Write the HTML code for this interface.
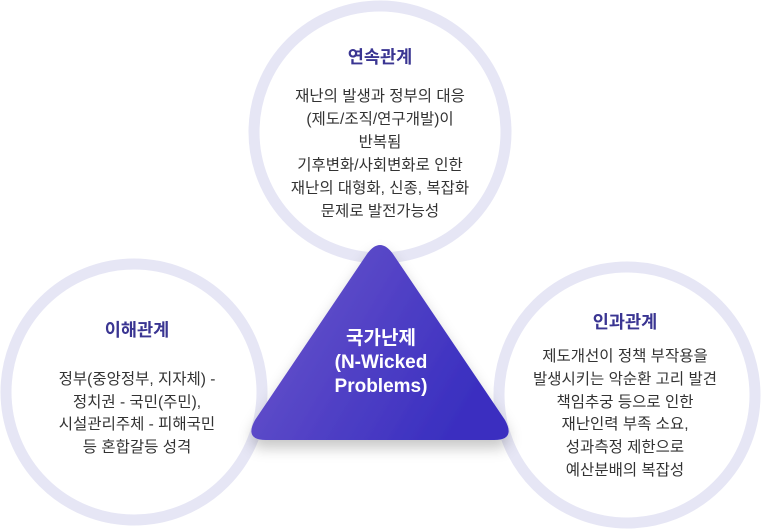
<!DOCTYPE html>
<html><head><meta charset="utf-8"><style>
html,body{margin:0;padding:0;background:#fff;}
svg{display:block;font-family:"Liberation Sans","Noto Sans CJK KR",sans-serif;}
.t{font-size:17.5px;font-weight:bold;fill:#3a3592;text-anchor:middle;}
.b{font-size:15.5px;fill:#333;text-anchor:middle;}
.w{font-size:19px;font-weight:bold;fill:#fff;text-anchor:middle;}
</style></head><body>
<svg width="762" height="532" viewBox="0 0 762 532">
<defs>
<linearGradient id="g" x1="0" y1="0" x2="1" y2="0.45">
<stop offset="0" stop-color="#6e58cc"/><stop offset="1" stop-color="#3a2fc0"/>
</linearGradient>
<filter id="s" x="-20%" y="-20%" width="140%" height="150%"><feDropShadow dx="0" dy="8" stdDeviation="7" flood-color="#000" flood-opacity="0.22"/></filter>
</defs>
<circle cx="380" cy="132" r="126" fill="#fff" stroke="#e6e6f5" stroke-width="11"/>
<circle cx="134" cy="392" r="128" fill="#fff" stroke="#e6e6f5" stroke-width="11"/>
<circle cx="627" cy="395" r="128" fill="#fff" stroke="#e6e6f5" stroke-width="11"/>
<path d="M367 254 Q380 236 393 254 L505 420 Q516 440 494 440 L266 440 Q244 440 255 420 Z" fill="url(#g)" filter="url(#s)"/>
<text class="t" x="380" y="63">연속관계</text>
<text class="b" x="380" y="101">재난의 발생과 정부의 대응</text>
<text class="b" x="380" y="124">(제도/조직/연구개발)이</text>
<text class="b" x="380" y="147">반복됨</text>
<text class="b" x="380" y="170">기후변화/사회변화로 인한</text>
<text class="b" x="380" y="193">재난의 대형화, 신종, 복잡화</text>
<text class="b" x="380" y="216">문제로 발전가능성</text>
<text class="t" x="137" y="336">이해관계</text>
<text class="b" x="137" y="384">정부(중앙정부, 지자체) -</text>
<text class="b" x="137" y="407">정치권 - 국민(주민),</text>
<text class="b" x="137" y="429">시설관리주체 - 피해국민</text>
<text class="b" x="137" y="452">등 혼합갈등 성격</text>
<text class="t" x="625" y="328">인과관계</text>
<text class="b" x="625" y="361">제도개선이 정책 부작용을</text>
<text class="b" x="625" y="384">발생시키는 악순환 고리 발견</text>
<text class="b" x="625" y="407">책임추궁 등으로 인한</text>
<text class="b" x="625" y="429">재난인력 부족 소요,</text>
<text class="b" x="625" y="452">성과측정 제한으로</text>
<text class="b" x="625" y="475">예산분배의 복잡성</text>
<text class="w" x="381" y="344">국가난제</text>
<text class="w" x="381" y="368">(N-Wicked</text>
<text class="w" x="381" y="392">Problems)</text>
</svg>
</body></html>
